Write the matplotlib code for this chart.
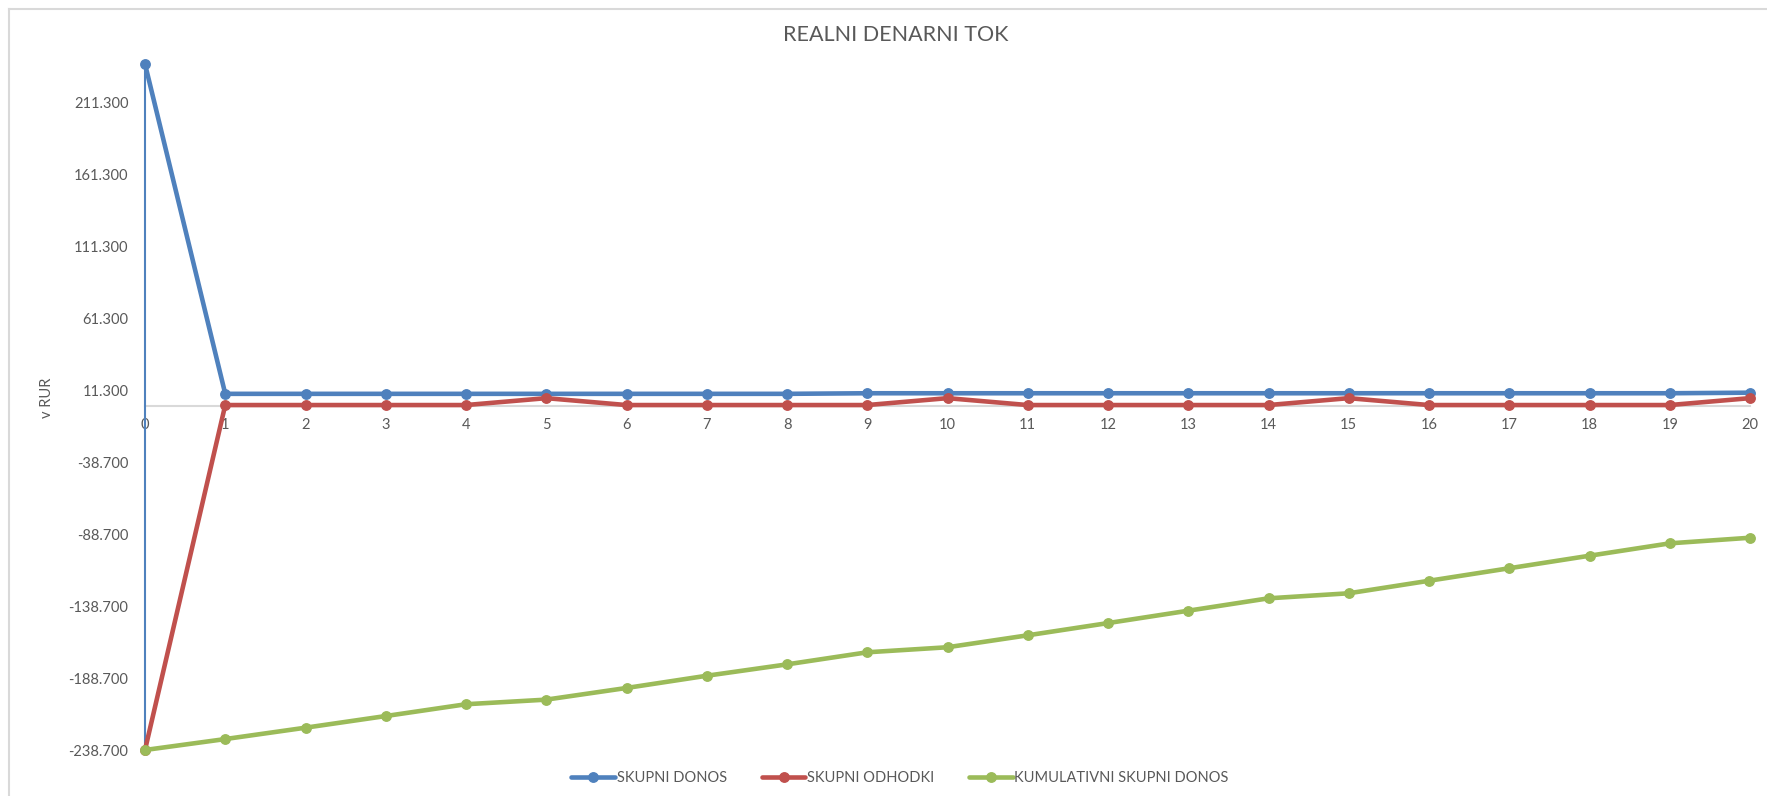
import matplotlib
matplotlib.use("Agg")
import matplotlib.pyplot as plt
from matplotlib.lines import Line2D

plt.rcParams['font.family'] = ['Lato', 'DejaVu Sans']

# Years of the project
years = list(range(0, 21))

# Total returns per year
skupni_donos = [238.0, 8.8, 8.8, 8.8, 8.8, 8.8, 8.8, 8.8, 8.8, 9.2, 9.2,
                9.2, 9.2, 9.2, 9.2, 9.2, 9.2, 9.2, 9.2, 9.2, 9.6]

# Total expenses per year
skupni_odhodki = [-238.7, 1.0, 1.0, 1.0, 1.0, 5.8, 1.0, 1.0, 1.0, 1.0, 5.8,
                  1.0, 1.0, 1.0, 1.0, 5.8, 1.0, 1.0, 1.0, 1.0, 5.8]

# Cumulative total return
kumulativni = [-238.7, -231.1, -223.2, -215.1, -206.9, -203.7, -195.6, -187.1,
               -179.2, -170.8, -167.3, -159.0, -150.5, -141.9, -133.3, -129.8,
               -121.1, -112.4, -103.7, -95.1, -91.2]

y_ticks = [-238.7, -188.7, -138.7, -88.7, -38.7, 11.3, 61.3, 111.3, 161.3, 211.3]
y_tick_labels = ["-238.700", "-188.700", "-138.700", "-88.700", "-38.700",
                 "11.300", "61.300", "111.300", "161.300", "211.300"]

series_names = ["SKUPNI DONOS", "SKUPNI ODHODKI", "KUMULATIVNI SKUPNI DONOS"]
colors = ["#4F81BD", "#C0504D", "#9BBB59"]
text_color = "#595959"

W, H = 1767, 796
fig = plt.figure(figsize=(W / 100, H / 100), dpi=100)
fig.patch.set_facecolor("white")

# chart frame (top and left edges)
frame_kw = dict(transform=fig.transFigure, color="#D9D9D9", linewidth=1.5)
fig.lines.append(Line2D([9 / W, 1.0], [1 - 9 / H, 1 - 9 / H], **frame_kw))
fig.lines.append(Line2D([9 / W, 9 / W], [0.0, 1 - 9 / H], **frame_kw))

ax = fig.add_axes([145 / W, 1 - 750 / H, (1750 - 145) / W, (750 - 64) / H])

for vals, name, col in zip([skupni_donos, skupni_odhodki, kumulativni],
                           series_names, colors):
    ax.plot(years, vals, color=col, linewidth=3.3, marker="o", markersize=6.8,
            label=name, clip_on=False, zorder=3, solid_capstyle="round")

ax.set_xlim(0, 20)
ax.set_ylim(-238.7, 238.0)

ax.set_xticks(years)
ax.set_xticklabels([str(y) for y in years])
ax.set_yticks(y_ticks)
ax.set_yticklabels(y_tick_labels)

for s in ["top", "right"]:
    ax.spines[s].set_visible(False)
ax.spines["bottom"].set_position(("data", 0))
ax.spines["bottom"].set_color("#D9D9D9")
ax.spines["bottom"].set_linewidth(1.5)
ax.spines["bottom"].set_zorder(1)
ax.spines["left"].set_color("#4F81BD")
ax.spines["left"].set_linewidth(1.5)

ax.tick_params(axis="both", length=0, labelsize=10.5, labelcolor=text_color)
ax.tick_params(axis="x", pad=8)
ax.tick_params(axis="y", pad=12)

fig.text(47 / W, 1 - 398 / H, "v RUR", rotation=90, ha="center", va="center",
         fontsize=10.5, color=text_color)

fig.text(896 / W, 1 - 35 / H, "REALNI DENARNI TOK", ha="center",
         va="center", fontsize=15.5, color=text_color)

fig.legend(loc="center", bbox_to_anchor=(900 / W, 1 - 778 / H), ncol=3,
           frameon=False, fontsize=10.5, labelcolor=text_color,
           handlelength=3.0, handletextpad=0.1, columnspacing=2.4,
           markerscale=1.0)

fig.savefig("out.png", dpi=100, facecolor="white")
